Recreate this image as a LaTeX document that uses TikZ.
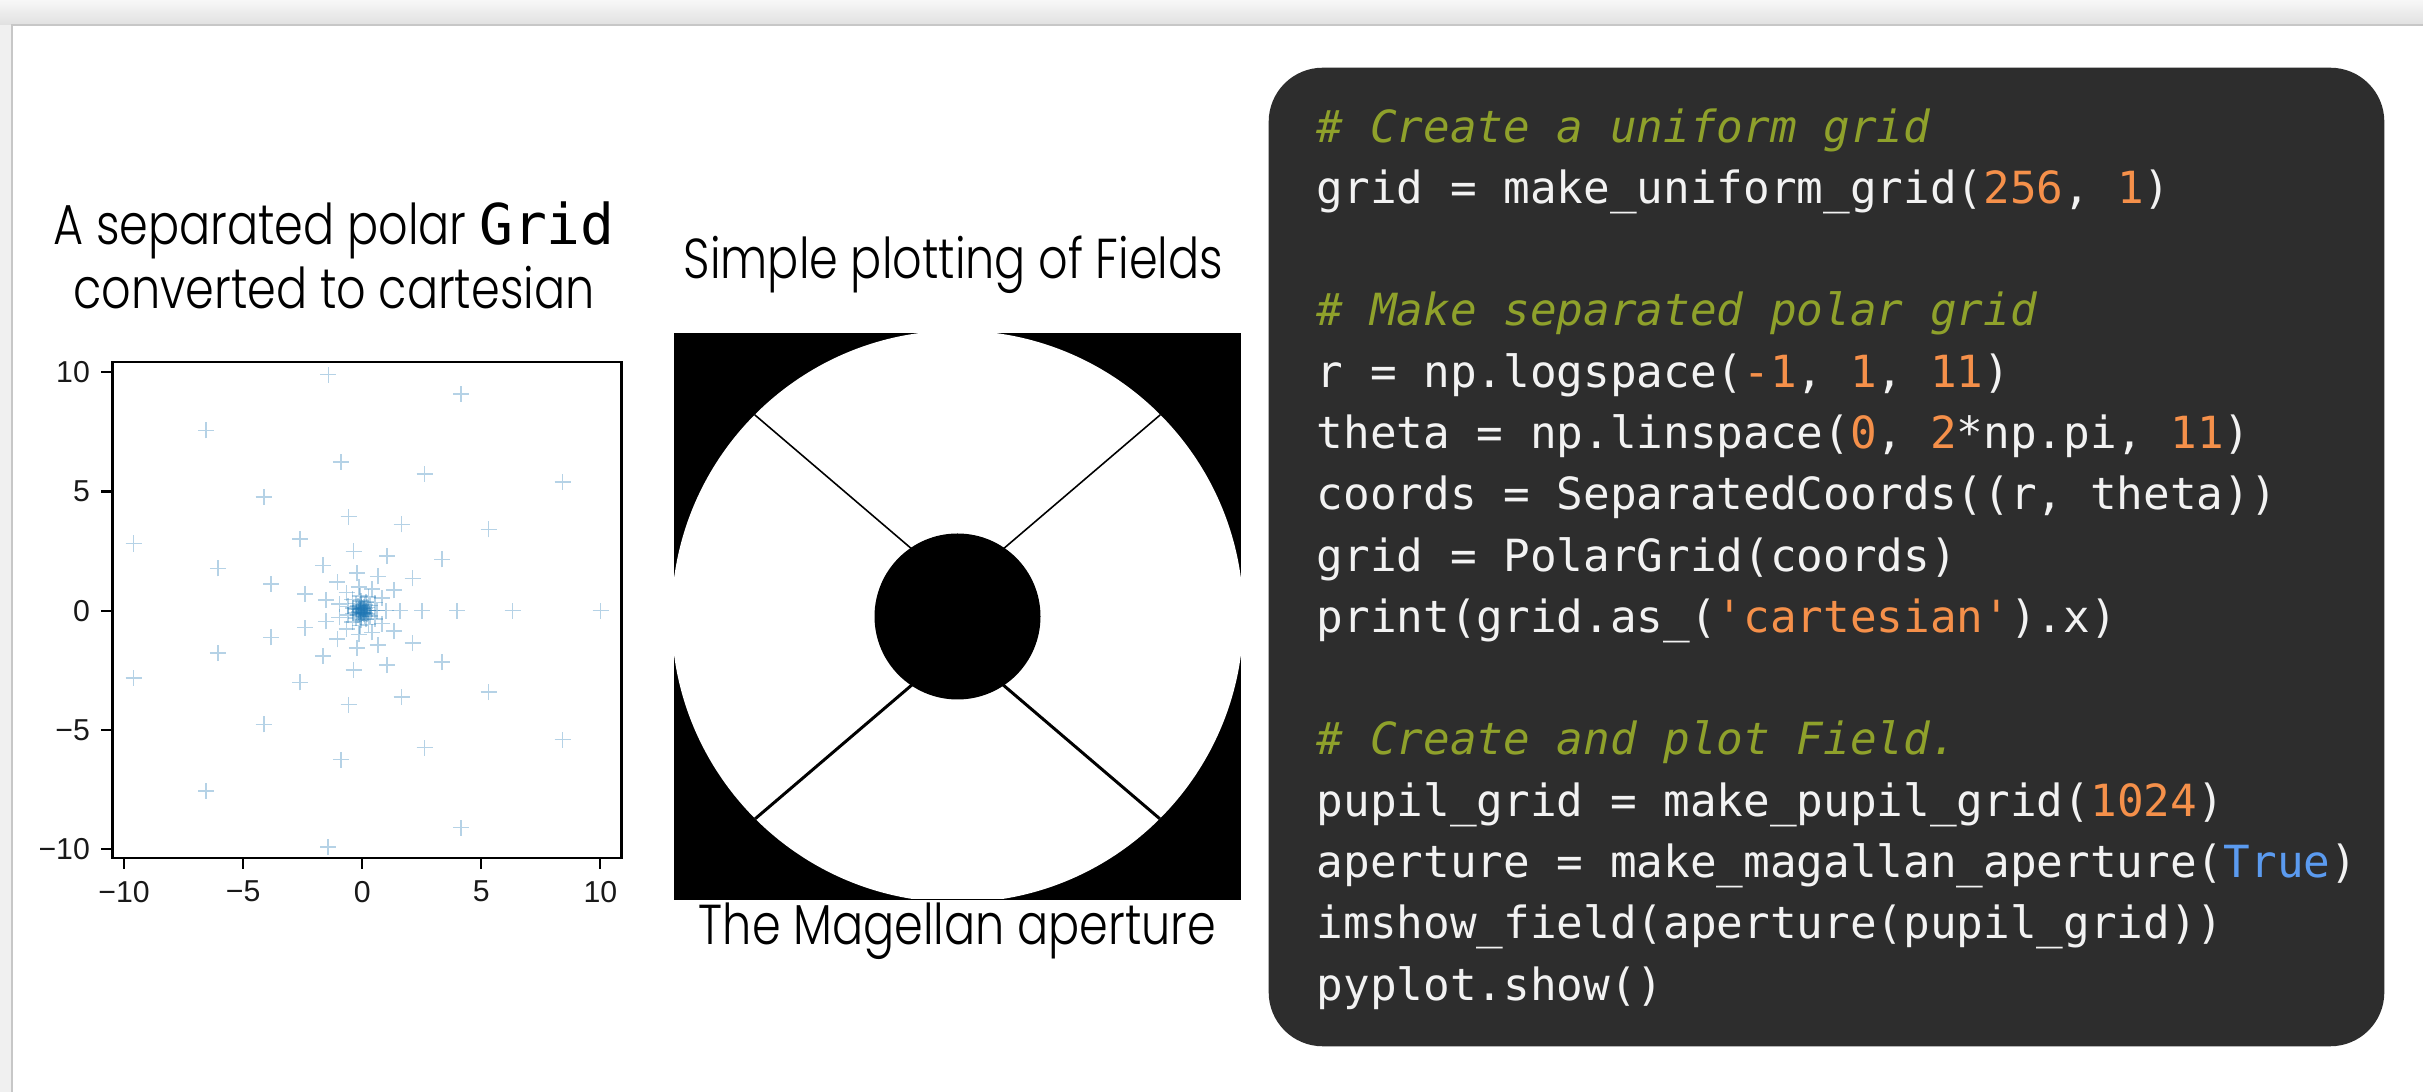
\documentclass[tikz,border=0pt]{standalone}
\usepackage{fontspec}
\usepackage{tikz}
\usetikzlibrary{positioning}
\setmainfont{Poppins Light}[FakeStretch=0.82]
\newfontfamily\codefont{DejaVu Sans Mono}[Ligatures=TeXOff]
\newfontfamily\tickfont{Liberation Sans}

\definecolor{codebg}{HTML}{2D2D2D}
\definecolor{codefg}{HTML}{F2F2F2}
\definecolor{codecmt}{HTML}{8FA12B}
\definecolor{codenum}{HTML}{F5904A}
\definecolor{codekw}{HTML}{5B9BF0}
\definecolor{mplblue}{HTML}{1F77B4}

\newcommand{\pycmt}[1]{{\color{codecmt}\itshape #1}}
\newcommand{\pynum}[1]{{\color{codenum}#1}}
\newcommand{\pykw}[1]{{\color{codekw}#1}}
\newcommand{\codeskip}{0.6126cm}

\tikzset{
  gridmark/.style={draw=mplblue, draw opacity=0.33, line width=0.45pt},
  ticklabel/.style={font=\tickfont\fontsize{8.6}{10}\selectfont, text=black!90, inner sep=3pt},
  paneltitle/.style={font=\fontsize{16}{19}\selectfont, inner sep=0pt, anchor=base},
  codeline/.style={font=\codefont\fontsize{12.6}{15}\selectfont, text=codefg, anchor=base west, inner sep=0pt},
  codebox/.style={fill=codebg, rounded corners=0.54cm, minimum width=11.15cm, minimum height=9.78cm, inner sep=0pt},
}

\begin{document}
\begin{tikzpicture}[x=0.01cm, y=-0.01cm]
  \useasboundingbox (0,0) rectangle (2423,1092);
  % page frame
  \fill[black!6] (0,0) rectangle (2423,1092);
  \shade[top color=black!3, bottom color=black!12] (0,0) rectangle (2423,25);
  \fill[white] (12,25) rectangle (2423,1092);
  \draw[black!22, line width=0.6pt] (12,1092) -- (12,25) -- (2423,25);

  % scatter of the polar grid
  \node[paneltitle] (gridtitle) at (334,245) {A separated polar {\codefont Grid}};
  \node[paneltitle] (gridsub) at ([yshift=-0.63cm]gridtitle.base) {converted to cartesian};
  \node[draw, line width=0.6pt, minimum width=5.087cm, minimum height=4.96cm, inner sep=0pt] (axes) at (367,610.3) {};
  \begin{scope}[shift={(362.2,610.7)}, x=0.2382cm, y=0.2384cm]
    \foreach \i in {0,...,10}
      \foreach \j in {0,...,10}
        \draw[gridmark] (\j*360/11:{10^(-1+0.2*\i)}) +(-0.08cm,0) -- +(0.08cm,0) +(0,-0.08cm) -- +(0,0.08cm);
  \end{scope}
  \foreach \v/\t in {-10/−10, -5/−5, 0/0, 5/5, 10/10} {
    \draw[line width=0.6pt] (axes.west |- 0,{610.7-23.84*\v}) -- ++(-10,0) node[ticklabel, anchor=east] (ytick\v) {\t};
    \draw[line width=0.6pt] ({362.2+23.82*\v},0 |- axes.south) -- ++(0,10) node[ticklabel, anchor=north] (xtick\v) {\t};
  }

  % Magellan aperture
  \node[paneltitle] (fieldtitle) at (953.5,279) {Simple plotting of Fields};
  \node[fill=black, minimum size=5.67cm, inner sep=0pt] (aperture) at (957.5,616.5) {};
  \begin{scope}
    \clip (674,334) rectangle (1241,899);
    \fill[white] (aperture.center) circle[radius=286];
    \clip (aperture.center) circle[radius=286];
    \draw[line width=0.45pt] (557.5,246.4) -- (957.5,588) -- (1357.5,246.4);
    \draw[line width=0.85pt] (557.5,987.6) -- (957.5,646) -- (1357.5,987.6);
  \end{scope}
  \fill[black] (aperture.center) circle[radius=83];
  \node[paneltitle] (apcaption) at ([yshift=-0.44cm]aperture.south) {The Magellan aperture};

  % code listing
  \node[codebox] (code) at (1826.5,557) {};
  \node[codeline] (l1) at ([xshift=0.48cm, yshift=-0.75cm]code.north west) {\pycmt{\# Create a uniform grid}};
  \node[codeline] (l2) at ([yshift=-\codeskip]l1.base west) {grid = make\_uniform\_grid(\pynum{256}, \pynum{1})};
  \node[codeline] (l3) at ([yshift=-2*\codeskip]l2.base west) {\pycmt{\# Make separated polar grid}};
  \node[codeline] (l4) at ([yshift=-\codeskip]l3.base west) {r = np.logspace(\pynum{-1}, \pynum{1}, \pynum{11})};
  \node[codeline] (l5) at ([yshift=-\codeskip]l4.base west) {theta = np.linspace(\pynum{0}, \pynum{2}*np.pi, \pynum{11})};
  \node[codeline] (l6) at ([yshift=-\codeskip]l5.base west) {coords = SeparatedCoords((r, theta))};
  \node[codeline] (l7) at ([yshift=-\codeskip]l6.base west) {grid = PolarGrid(coords)};
  \node[codeline] (l8) at ([yshift=-\codeskip]l7.base west) {print(grid.as\_(\pynum{'cartesian'}).x)};
  \node[codeline] (l9) at ([yshift=-2*\codeskip]l8.base west) {\pycmt{\# Create and plot Field.}};
  \node[codeline] (l10) at ([yshift=-\codeskip]l9.base west) {pupil\_grid = make\_pupil\_grid(\pynum{1024})};
  \node[codeline] (l11) at ([yshift=-\codeskip]l10.base west) {aperture = make\_magallan\_aperture(\pykw{True})};
  \node[codeline] (l12) at ([yshift=-\codeskip]l11.base west) {imshow\_field(aperture(pupil\_grid))};
  \node[codeline] (l13) at ([yshift=-\codeskip]l12.base west) {pyplot.show()};
\end{tikzpicture}
\end{document}
